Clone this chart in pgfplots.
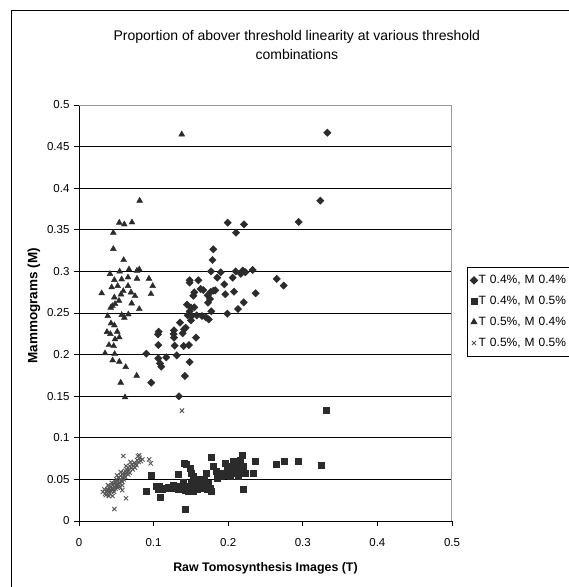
\documentclass[border=0pt]{standalone}
\usepackage{fontspec}
\setmainfont{Liberation Sans}
\usepackage{pgfplots}
\pgfplotsset{compat=1.18}
\pgfplotsset{onemark/.style={legend image code/.code={\draw[##1] plot coordinates {(0pt,0pt)};}}}
\definecolor{mk}{HTML}{2B2B2B}
\definecolor{xg}{HTML}{555555}
\definecolor{bord}{HTML}{9A9A9A}
\begin{document}
\begin{tikzpicture}
\useasboundingbox (-79pt,-66pt) rectangle (490pt,521pt);
\clip (-79pt,-66pt) rectangle (490pt,521pt);
\draw[black, line width=1pt] (-67pt,-80pt) -- (-67pt,510pt) -- (520pt,510pt);
\begin{axis}[
  scale only axis, width=373pt, height=416pt,
  xmin=0, xmax=0.5, ymin=0, ymax=0.5,
  axis lines*=left,
  axis line style={black, line width=0.8pt},
  xtick={0,0.1,0.2,0.3,0.4,0.5},
  xticklabels={0,0.1,0.2,0.3,0.4,0.5},
  ytick={0,0.05,0.1,0.15,0.2,0.25,0.3,0.35,0.4,0.45,0.5},
  yticklabels={0,0.05,0.1,0.15,0.2,0.25,0.3,0.35,0.4,0.45,0.5},
  tick align=outside, major tick length=5pt,
  tick style={black, line width=0.8pt},
  ymajorgrids, grid style={black, line width=0.9pt},
  ticklabel style={font=\fontsize{11.5}{13}\selectfont},
  yticklabel style={xshift=-1pt},
  xticklabel style={yshift=-9pt},
  /pgf/number format/assume math mode=true,
  title={Proportion of abover threshold linearity at various threshold\\combinations},
  title style={at={(axis description cs:0.584,1.1297)}, anchor=center, align=center,
    font=\fontsize{14}{19.5}\selectfont},
  xlabel={\textbf{Raw Tomosynthesis Images (T)}},
  xlabel style={at={(axis description cs:0.5,-0.113)}, anchor=center, font=\fontsize{12.4}{14}\selectfont},
  ylabel={\textbf{Mammograms (M)}},
  ylabel style={at={(axis description cs:-0.1206,0.517)}, anchor=center, font=\fontsize{13.5}{15}\selectfont},
  legend style={at={(1.04,0.6106)}, anchor=north west, draw=black, line width=0.8pt,
    font=\fontsize{12}{14}\selectfont, row sep=7pt, inner xsep=3pt, inner ysep=6pt,
    nodes={inner xsep=1pt, text width=100pt}},
  legend cell align=left,
  clip=false,
]
\addplot[only marks, mark=square*, mark size=2.6pt, mark options={rotate=45, fill=mk, draw=mk}, onemark] coordinates {
(0.3329,0.4667) (0.3235,0.385) (0.2945,0.3594) (0.1993,0.3586) (0.2212,0.3566)
(0.2105,0.3465) (0.18,0.3266) (0.179,0.3137) (0.177,0.300) (0.190,0.299)
(0.1854,0.2925) (0.1483,0.2893) (0.1483,0.2865) (0.16,0.2893) (0.206,0.2925)
(0.21,0.300) (0.2194,0.301) (0.217,0.297) (0.223,0.299) (0.2328,0.3017)
(0.265,0.291) (0.2744,0.283) (0.1948,0.2845) (0.1546,0.2748) (0.1533,0.2708)
(0.163,0.2788) (0.1666,0.2776) (0.1765,0.2752) (0.18,0.2768) (0.1827,0.2772)
(0.1725,0.2712) (0.1756,0.2668) (0.173,0.2624) (0.1961,0.2725) (0.2078,0.2756)
(0.2368,0.2737) (0.2208,0.2628) (0.2131,0.2548) (0.1988,0.2492) (0.1774,0.252)
(0.1702,0.2448) (0.1739,0.2424) (0.1448,0.26) (0.1501,0.2564) (0.1546,0.2568)
(0.1483,0.252) (0.1457,0.2472) (0.151,0.2464) (0.1578,0.2472) (0.1501,0.2412)
(0.1649,0.2464) (0.1354,0.2384) (0.1408,0.2304) (0.139,0.2256) (0.143,0.2324)
(0.1273,0.2292) (0.1269,0.2248) (0.1273,0.2204) (0.1283,0.2107) (0.1403,0.2103)
(0.1474,0.2115) (0.1568,0.2204) (0.1068,0.2276) (0.1059,0.2244) (0.1063,0.2115)
(0.0902,0.2011) (0.1063,0.1955) (0.1086,0.1895) (0.1103,0.1855) (0.117,0.1967)
(0.131,0.1991) (0.1483,0.1911) (0.142,0.1743) (0.0969,0.1663) (0.134,0.1499)
};
\addlegendentry{T 0.4\%, M 0.4\%}
\addplot[only marks, mark=square*, mark size=3pt, mark options={fill=mk, draw=mk}, onemark] coordinates {
(0.0898,0.0353) (0.0965,0.0545) (0.1041,0.0413) (0.1063,0.0385) (0.1095,0.0285)
(0.1162,0.04) (0.1076,0.0413) (0.1421,0.0144) (0.1331,0.0565) (0.1408,0.0693)
(0.1264,0.0433) (0.130,0.0413) (0.1336,0.0557) (0.1376,0.0413) (0.1421,0.0373)
(0.1434,0.0685) (0.1488,0.0633) (0.1501,0.0573) (0.1532,0.0533) (0.1555,0.0473)
(0.1488,0.0393) (0.1532,0.0353) (0.1577,0.0413) (0.16,0.0453) (0.1631,0.0393)
(0.1676,0.0493) (0.1711,0.0573) (0.1734,0.0453) (0.1756,0.0393) (0.1778,0.0353)
(0.1778,0.0761) (0.18,0.0653) (0.1845,0.0593) (0.189,0.0573) (0.1912,0.0533)
(0.1957,0.0693) (0.198,0.0613) (0.2024,0.0533) (0.2047,0.0653) (0.2069,0.0713)
(0.2114,0.0693) (0.2114,0.0573) (0.2136,0.0533) (0.2158,0.0733) (0.2194,0.0785)
(0.2203,0.0653) (0.2225,0.0573) (0.2203,0.0385) (0.2337,0.0573) (0.2359,0.0713)
(0.265,0.0681) (0.2748,0.0713) (0.294,0.0713) (0.324,0.0665) (0.3311,0.133)
(0.125,0.040) (0.133,0.038) (0.145,0.042) (0.150,0.046) (0.155,0.043)
(0.162,0.050) (0.168,0.044) (0.172,0.038) (0.185,0.052) (0.195,0.055)
(0.200,0.062) (0.205,0.058) (0.210,0.066) (0.215,0.062) (0.140,0.047)
(0.146,0.036) (0.158,0.038) (0.165,0.041) (0.120,0.041) (0.112,0.038)
};
\addlegendentry{T 0.4\%, M 0.5\%}
\addplot[only marks, mark=triangle*, mark size=3.4pt, mark options={fill=mk, draw=mk}, onemark] coordinates {
(0.1377,0.4647) (0.0813,0.385) (0.054,0.3586) (0.0607,0.3566) (0.071,0.359)
(0.046,0.3465) (0.046,0.327) (0.0599,0.3137) (0.0416,0.2969) (0.0545,0.300)
(0.067,0.3025) (0.0777,0.3009) (0.0808,0.3025) (0.0938,0.2913) (0.0988,0.2825)
(0.0965,0.2728) (0.0474,0.2897) (0.0572,0.2905) (0.0657,0.2929) (0.0777,0.2913)
(0.0304,0.2737) (0.0438,0.2809) (0.0519,0.2825) (0.0657,0.2825) (0.0594,0.2764)
(0.0563,0.2724) (0.0697,0.2748) (0.0751,0.2704) (0.0474,0.2688) (0.0447,0.2584)
(0.0483,0.2608) (0.0536,0.2648) (0.0706,0.2616) (0.0808,0.2548) (0.0425,0.2564)
(0.0385,0.2464) (0.0572,0.2476) (0.0608,0.2444) (0.0661,0.2484) (0.0429,0.2376)
(0.0474,0.2352) (0.0375,0.2272) (0.042,0.2248) (0.0513,0.2276) (0.054,0.2208)
(0.0483,0.2184) (0.0402,0.2115) (0.0465,0.2103) (0.0349,0.2016) (0.0478,0.2007)
(0.0451,0.1931) (0.054,0.1915) (0.0626,0.1851) (0.0773,0.1747) (0.0559,0.1663)
(0.0617,0.1487)
};
\addlegendentry{T 0.5\%, M 0.4\%}
\addplot[only marks, mark=x, mark size=3pt, mark options={draw=xg, line width=0.9pt}, onemark] coordinates {
(0.032,0.035) (0.035,0.033) (0.037,0.036) (0.038,0.038) (0.040,0.035)
(0.040,0.040) (0.042,0.037) (0.043,0.041) (0.044,0.039) (0.045,0.043)
(0.046,0.038) (0.047,0.045) (0.048,0.041) (0.049,0.047) (0.050,0.044)
(0.050,0.050) (0.051,0.042) (0.052,0.048) (0.053,0.052) (0.054,0.046)
(0.055,0.050) (0.056,0.054) (0.057,0.049) (0.058,0.056) (0.059,0.052)
(0.060,0.058) (0.061,0.055) (0.062,0.060) (0.063,0.057) (0.064,0.062)
(0.065,0.059) (0.066,0.064) (0.067,0.061) (0.068,0.066) (0.070,0.064)
(0.071,0.068) (0.073,0.066) (0.074,0.070) (0.076,0.069) (0.078,0.073)
(0.080,0.071) (0.081,0.076) (0.0594,0.0781) (0.0808,0.0790) (0.0961,0.0693)
(0.094,0.0740) (0.063,0.0273) (0.0474,0.0144) (0.138,0.1326) (0.045,0.030)
(0.040,0.030) (0.036,0.031) (0.052,0.040) (0.058,0.047)
(0.034,0.038) (0.039,0.043) (0.041,0.033) (0.044,0.046) (0.047,0.035)
(0.049,0.039) (0.053,0.044) (0.055,0.041) (0.056,0.059) (0.058,0.043)
(0.060,0.050) (0.062,0.053) (0.063,0.066) (0.066,0.056) (0.068,0.058)
(0.069,0.071) (0.072,0.062) (0.075,0.064) (0.077,0.067) (0.079,0.078)
(0.083,0.072) (0.085,0.074) (0.058,0.037) (0.051,0.055) (0.043,0.036)
};
\addlegendentry{T 0.5\%, M 0.5\%}
\draw[bord, line width=1pt] (rel axis cs:0,1) -- (rel axis cs:1,1) -- (rel axis cs:1,0);
\end{axis}
\end{tikzpicture}
\end{document}
